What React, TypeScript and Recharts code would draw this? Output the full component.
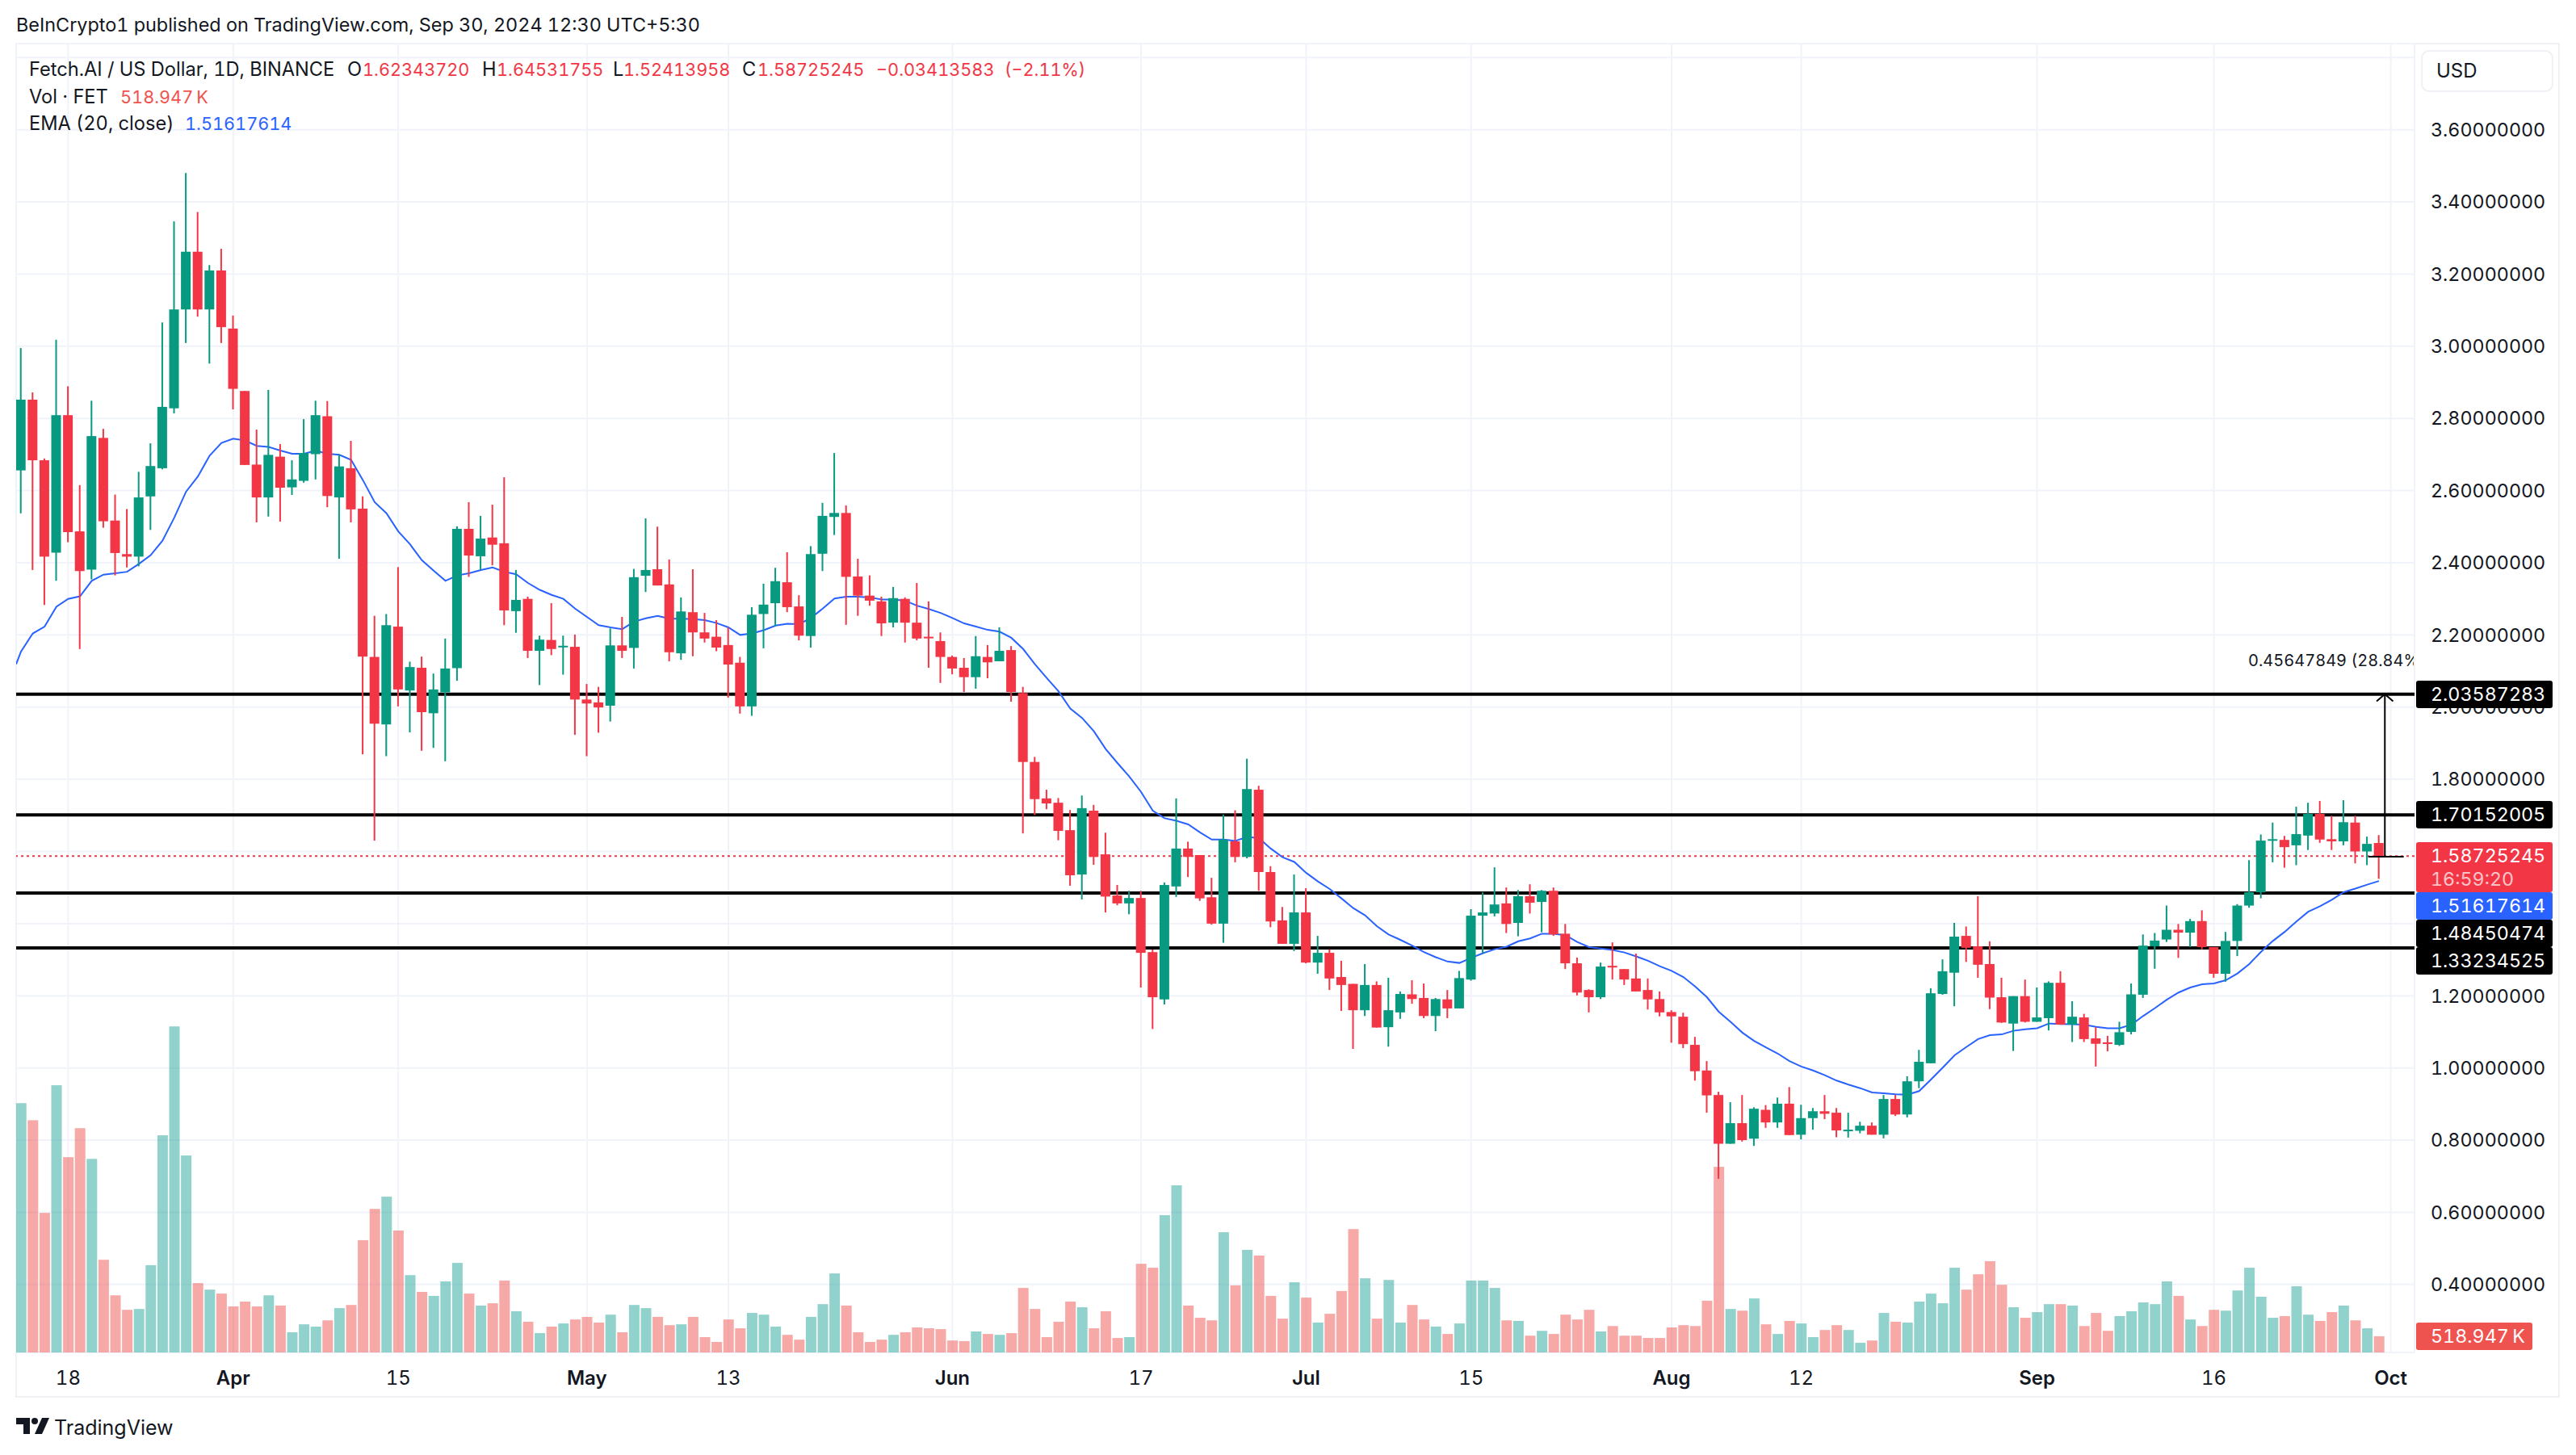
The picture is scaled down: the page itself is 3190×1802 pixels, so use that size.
import { Bar, CartesianGrid, ComposedChart, Line, ReferenceLine, XAxis, YAxis } from 'recharts';

// FET/USD daily candles, 14 Mar - 30 Sep 2024
const opens = [
  2.656, 2.852, 2.684, 2.428, 2.809, 2.487, 2.381, 2.746, 2.517, 2.424, 2.417, 2.584, 2.662, 2.828, 3.102, 3.262, 3.102, 3.21, 3.049, 2.876,
  2.672, 2.581, 2.694, 2.609, 2.627, 2.701, 2.806, 2.581, 2.662, 2.55, 2.139, 1.952, 2.223, 2.046, 2.109, 1.983, 2.041, 2.108, 2.494, 2.418,
  2.47, 2.454, 2.266, 2.3, 2.156, 2.186, 2.166, 2.167, 2.021, 2.013, 2.004, 2.171, 2.164, 2.364, 2.382, 2.34, 2.149, 2.263, 2.207, 2.195,
  2.172, 2.123, 2.002, 2.258, 2.288, 2.346, 2.279, 2.197, 2.425, 2.527, 2.538, 2.362, 2.309, 2.293, 2.234, 2.3, 2.234, 2.195, 2.183, 2.139,
  2.109, 2.083, 2.139, 2.127, 2.158, 2.039, 1.848, 1.747, 1.735, 1.659, 1.536, 1.713, 1.592, 1.478, 1.456, 1.471, 1.321, 1.19, 1.503, 1.608,
  1.59, 1.473, 1.4, 1.628, 1.585, 1.771, 1.543, 1.409, 1.344, 1.431, 1.292, 1.319, 1.252, 1.233, 1.16, 1.23, 1.113, 1.154, 1.204, 1.194,
  1.144, 1.19, 1.165, 1.245, 1.422, 1.428, 1.456, 1.402, 1.476, 1.46, 1.491, 1.372, 1.29, 1.216, 1.196, 1.283, 1.274, 1.248, 1.216, 1.191,
  1.155, 1.142, 1.064, 0.993, 0.925, 0.79, 0.847, 0.804, 0.884, 0.849, 0.901, 0.815, 0.861, 0.88, 0.876, 0.826, 0.826, 0.84, 0.815, 0.914,
  0.871, 0.963, 1.013, 1.205, 1.264, 1.366, 1.337, 1.288, 1.196, 1.123, 1.199, 1.128, 1.138, 1.236, 1.12, 1.14, 1.082, 1.071, 1.064, 1.1,
  1.203, 1.337, 1.356, 1.383, 1.375, 1.407, 1.335, 1.261, 1.352, 1.45, 1.487, 1.631, 1.632, 1.617, 1.644, 1.704, 1.634, 1.628, 1.68, 1.6,
  1.6234,
];
const highs = [
  2.995, 2.872, 2.689, 3.018, 2.889, 2.615, 2.849, 2.771, 2.589, 2.549, 2.652, 2.731, 3.066, 3.346, 3.48, 3.372, 3.225, 3.27, 3.085, 2.876,
  2.769, 2.879, 2.729, 2.684, 2.798, 2.849, 2.848, 2.701, 2.738, 2.584, 2.253, 2.258, 2.388, 2.126, 2.14, 2.093, 2.19, 2.501, 2.568, 2.53,
  2.561, 2.637, 2.38, 2.306, 2.198, 2.288, 2.198, 2.201, 2.064, 2.056, 2.218, 2.25, 2.383, 2.523, 2.5, 2.409, 2.304, 2.382, 2.261, 2.241,
  2.221, 2.139, 2.277, 2.342, 2.386, 2.429, 2.31, 2.446, 2.566, 2.704, 2.559, 2.411, 2.365, 2.306, 2.333, 2.304, 2.344, 2.293, 2.207, 2.143,
  2.136, 2.197, 2.172, 2.221, 2.169, 2.056, 1.862, 1.771, 1.748, 1.715, 1.755, 1.729, 1.652, 1.507, 1.491, 1.491, 1.328, 1.514, 1.747, 1.627,
  1.59, 1.527, 1.702, 1.714, 1.857, 1.782, 1.559, 1.446, 1.536, 1.498, 1.366, 1.329, 1.297, 1.233, 1.288, 1.24, 1.25, 1.212, 1.243, 1.234,
  1.194, 1.216, 1.269, 1.44, 1.487, 1.556, 1.5, 1.493, 1.509, 1.493, 1.5, 1.399, 1.306, 1.218, 1.292, 1.348, 1.274, 1.317, 1.248, 1.212,
  1.16, 1.153, 1.086, 1.019, 0.934, 0.905, 0.925, 0.891, 0.897, 0.918, 0.947, 0.898, 0.889, 0.925, 0.889, 0.876, 0.851, 0.849, 0.925, 0.925,
  0.977, 1.05, 1.221, 1.301, 1.402, 1.392, 1.476, 1.351, 1.25, 1.199, 1.245, 1.223, 1.24, 1.268, 1.185, 1.15, 1.113, 1.089, 1.128, 1.234,
  1.37, 1.374, 1.45, 1.399, 1.413, 1.437, 1.335, 1.377, 1.454, 1.576, 1.647, 1.68, 1.643, 1.724, 1.735, 1.74, 1.699, 1.742, 1.699, 1.641,
  1.6453,
];
const lows = [
  2.537, 2.38, 2.283, 2.35, 2.457, 2.161, 2.354, 2.497, 2.365, 2.387, 2.39, 2.491, 2.659, 2.814, 3.009, 3.082, 2.952, 3.009, 2.825, 2.671,
  2.512, 2.528, 2.514, 2.588, 2.622, 2.631, 2.554, 2.411, 2.512, 1.869, 1.63, 1.864, 2.002, 1.93, 1.879, 1.887, 1.85, 2.073, 2.361, 2.38,
  2.393, 2.227, 2.206, 2.136, 2.061, 2.144, 2.09, 1.923, 1.864, 1.929, 1.96, 2.136, 2.107, 2.319, 2.337, 2.127, 2.131, 2.141, 2.179, 2.155,
  2.026, 1.982, 1.976, 2.163, 2.224, 2.263, 2.185, 2.165, 2.377, 2.477, 2.228, 2.253, 2.281, 2.197, 2.221, 2.179, 2.185, 2.109, 2.067, 2.091,
  2.042, 2.051, 2.08, 2.127, 2.015, 1.65, 1.701, 1.717, 1.631, 1.505, 1.467, 1.563, 1.431, 1.451, 1.426, 1.223, 1.108, 1.176, 1.474, 1.529,
  1.463, 1.397, 1.347, 1.57, 1.581, 1.491, 1.39, 1.344, 1.324, 1.29, 1.261, 1.216, 1.158, 1.053, 1.144, 1.112, 1.059, 1.136, 1.178, 1.138,
  1.102, 1.138, 1.165, 1.242, 1.316, 1.42, 1.374, 1.365, 1.428, 1.376, 1.366, 1.274, 1.201, 1.154, 1.191, 1.245, 1.23, 1.212, 1.162, 1.143,
  1.07, 1.055, 0.965, 0.876, 0.693, 0.79, 0.796, 0.784, 0.834, 0.834, 0.814, 0.802, 0.829, 0.858, 0.808, 0.807, 0.819, 0.815, 0.805, 0.867,
  0.863, 0.944, 1.013, 1.203, 1.171, 1.294, 1.25, 1.163, 1.125, 1.047, 1.126, 1.128, 1.104, 1.12, 1.072, 1.072, 1.004, 1.046, 1.061, 1.093,
  1.194, 1.275, 1.349, 1.305, 1.335, 1.329, 1.25, 1.239, 1.31, 1.444, 1.47, 1.57, 1.555, 1.562, 1.604, 1.624, 1.604, 1.617, 1.567, 1.562,
  1.5241,
];
const closes = [
  2.852, 2.684, 2.417, 2.809, 2.485, 2.377, 2.751, 2.515, 2.427, 2.417, 2.581, 2.668, 2.832, 3.102, 3.262, 3.102, 3.21, 3.053, 2.882, 2.671,
  2.581, 2.699, 2.608, 2.631, 2.704, 2.809, 2.585, 2.667, 2.548, 2.14, 1.954, 2.227, 2.049, 2.111, 1.986, 2.049, 2.107, 2.494, 2.42, 2.467,
  2.45, 2.268, 2.297, 2.156, 2.187, 2.161, 2.17, 2.021, 2.01, 1.999, 2.171, 2.156, 2.36, 2.38, 2.337, 2.152, 2.265, 2.207, 2.19, 2.165,
  2.118, 2.002, 2.256, 2.284, 2.349, 2.277, 2.198, 2.424, 2.53, 2.538, 2.361, 2.309, 2.295, 2.232, 2.302, 2.234, 2.19, 2.191, 2.139, 2.107,
  2.083, 2.141, 2.124, 2.156, 2.042, 1.848, 1.745, 1.733, 1.657, 1.534, 1.72, 1.585, 1.475, 1.456, 1.471, 1.319, 1.196, 1.507, 1.608, 1.585,
  1.47, 1.4, 1.633, 1.585, 1.773, 1.543, 1.406, 1.344, 1.431, 1.292, 1.319, 1.248, 1.23, 1.16, 1.23, 1.112, 1.16, 1.205, 1.191, 1.144,
  1.191, 1.165, 1.249, 1.422, 1.431, 1.453, 1.399, 1.476, 1.458, 1.491, 1.37, 1.29, 1.209, 1.196, 1.281, 1.279, 1.245, 1.212, 1.19, 1.154,
  1.143, 1.066, 0.991, 0.924, 0.79, 0.847, 0.8, 0.887, 0.849, 0.901, 0.814, 0.861, 0.88, 0.873, 0.827, 0.829, 0.84, 0.815, 0.914, 0.871,
  0.963, 1.017, 1.207, 1.268, 1.364, 1.333, 1.286, 1.195, 1.126, 1.199, 1.128, 1.14, 1.236, 1.12, 1.142, 1.08, 1.067, 1.067, 1.099, 1.204,
  1.339, 1.353, 1.383, 1.375, 1.407, 1.335, 1.261, 1.352, 1.45, 1.487, 1.63, 1.634, 1.612, 1.648, 1.704, 1.633, 1.628, 1.681, 1.6, 1.621,
  1.5873,
];
const emaValues = [
  2.154, 2.204, 2.223, 2.278, 2.3, 2.307, 2.35, 2.367, 2.371, 2.375, 2.397, 2.421, 2.461, 2.525, 2.597, 2.639, 2.697, 2.732, 2.744, 2.739,
  2.724, 2.721, 2.711, 2.702, 2.702, 2.711, 2.702, 2.699, 2.685, 2.629, 2.568, 2.537, 2.487, 2.451, 2.407, 2.378, 2.35, 2.365, 2.371, 2.38,
  2.387, 2.375, 2.368, 2.344, 2.325, 2.311, 2.3, 2.273, 2.25, 2.227, 2.221, 2.216, 2.237, 2.246, 2.253, 2.245, 2.245, 2.244, 2.241, 2.233,
  2.221, 2.2, 2.204, 2.213, 2.226, 2.231, 2.23, 2.247, 2.273, 2.301, 2.306, 2.306, 2.304, 2.298, 2.298, 2.295, 2.281, 2.272, 2.261, 2.247,
  2.232, 2.223, 2.214, 2.209, 2.192, 2.161, 2.119, 2.081, 2.044, 1.996, 1.97, 1.933, 1.884, 1.845, 1.808, 1.765, 1.713, 1.692, 1.685, 1.675,
  1.653, 1.633, 1.633, 1.629, 1.64, 1.637, 1.608, 1.584, 1.571, 1.541, 1.517, 1.496, 1.47, 1.443, 1.423, 1.393, 1.37, 1.355, 1.339, 1.321,
  1.307, 1.295, 1.291, 1.305, 1.318, 1.329, 1.336, 1.351, 1.359, 1.372, 1.372, 1.368, 1.349, 1.335, 1.331, 1.327, 1.32, 1.309, 1.297, 1.282,
  1.269, 1.252, 1.226, 1.196, 1.156, 1.128, 1.098, 1.075, 1.057, 1.04, 1.019, 1.004, 0.993, 0.98, 0.965, 0.954, 0.944, 0.932, 0.93, 0.927,
  0.926, 0.936, 0.968, 1.001, 1.035, 1.058, 1.08, 1.091, 1.093, 1.103, 1.107, 1.11, 1.123, 1.122, 1.121, 1.12, 1.114, 1.11, 1.11, 1.12,
  1.144, 1.166, 1.189, 1.209, 1.223, 1.232, 1.234, 1.243, 1.262, 1.288, 1.322, 1.352, 1.377, 1.406, 1.433, 1.448, 1.466, 1.487, 1.497, 1.508,
  1.518,
];
// volume in thousands
const volumes = [
  7981, 7435, 4468, 8554, 6252, 7180, 6197, 2967, 1829, 1365, 1392, 2794, 6952, 10438, 6306, 2220, 2011, 1884, 1474, 1629,
  1474, 1829, 1502, 646, 901, 828, 1028, 1420, 1520, 3595, 4596, 4987, 3904, 2475, 1938, 1811, 2275, 2867, 1884, 1502,
  1574, 2302, 1320, 983, 619, 828, 928, 1056, 1138, 956, 1210, 646, 1520, 1420, 1138, 874, 901, 1138, 491, 337,
  1056, 774, 1265, 1210, 828, 564, 410, 1138, 1547, 2530, 1502, 646, 337, 410, 564, 646, 801, 774, 746, 382,
  364, 673, 592, 564, 619, 2066, 1392, 491, 983, 1629, 1447, 774, 1320, 464, 491, 2839, 2712, 4395, 5351, 1502,
  1110, 1028, 3849, 2148, 3285, 3103, 1811, 1083, 2248, 1756, 956, 1238, 1966, 3949, 2375, 1083, 2321, 956, 1520, 1056,
  828, 592, 928, 2302, 2302, 2066, 1028, 1010, 537, 692, 592, 1210, 1056, 1365, 673, 846, 537, 537, 464, 464,
  801, 874, 846, 1656, 5942, 1392, 1338, 1729, 901, 592, 1010, 928, 491, 719, 874, 719, 309, 382, 1265, 983,
  956, 1629, 1884, 1574, 2712, 2011, 2503, 2921, 2166, 1447, 1110, 1292, 1547, 1547, 1502, 846, 1265, 692, 1165, 1320,
  1602, 1547, 2275, 1811, 1056, 846, 1365, 1338, 1984, 2712, 1784, 1110, 1165, 2120, 1210, 1010, 1292, 1502, 1028, 774,
  519,
];

const xTickValues = [4, 18, 32, 48, 60, 79, 95, 109, 123, 140, 151, 171, 186, 201];
const xTickLabels = ['18', 'Apr', '15', 'May', '13', 'Jun', '17', 'Jul', '15', 'Aug', '12', 'Sep', '16', 'Oct'];
const boldTicks = ['Apr', 'May', 'Jun', 'Jul', 'Aug', 'Sep', 'Oct'];
const priceTicks = [0.4, 0.6, 0.8, 1.0, 1.2, 1.4, 1.6, 1.8, 2.0, 2.2, 2.4, 2.6, 2.8, 3.0, 3.2, 3.4, 3.6, 3.8];
// these ticks sit under the USD box and the price tags in the reference
const hiddenPriceTicks = [1.4, 1.6, 3.8];
const levels = [2.03587283, 1.70152005, 1.48450474, 1.33234525];
const lastClose = 1.58725245;

const UP = '#089981';
const DOWN = '#f23645';
const FONT = 'Inter, sans-serif';
const INK = '#131722';

const rows = opens.map((open, i) => ({
  i,
  open,
  high: highs[i],
  low: lows[i],
  close: closes[i],
  volume: volumes[i],
}));
const emaRows = [{ i: -0.41, ema: 2.119 }, ...emaValues.map((ema, i) => ({ i, ema }))];

function Candle({ x, y, width, height, payload }: any) {
  const { open, close, high, low } = payload;
  const color = close >= open ? UP : DOWN;
  const perUnit = height / (high - low);
  const top = y + (high - Math.max(open, close)) * perUnit;
  const bodyHeight = Math.max(Math.abs(open - close) * perUnit, 2);
  const mid = x + width / 2;
  return (
    <g>
      <rect x={mid - 1} y={y} width={2} height={height} fill={color} />
      <rect x={mid - 6} y={top} width={12} height={bodyHeight} fill={color} />
    </g>
  );
}

function VolumeBar({ x, y, width, height, payload }: any) {
  const color = payload.close >= payload.open ? '#26a69a' : '#ef5350';
  return <rect x={x} y={y} width={width} height={height} fill={color} fillOpacity={0.5} />;
}

function TimeTick({ x, y, payload }: any) {
  const label = xTickLabels[xTickValues.indexOf(payload.value)];
  return (
    <text
      x={x}
      y={y + 31}
      textAnchor="middle"
      dominantBaseline="central"
      fontFamily={FONT}
      fontSize={24}
      fontWeight={boldTicks.includes(label) ? 600 : 400}
      fill={INK}
    >
      {label}
    </text>
  );
}

function Tag({ top, height = 34, width = 169, bg, children }: any) {
  return (
    <div
      style={{
        position: 'absolute',
        left: 2992,
        top,
        width,
        height,
        background: bg,
        color: '#fff',
        borderRadius: 3,
        fontSize: 23.3,
        lineHeight: `${height}px`,
        paddingLeft: 18,
        boxSizing: 'border-box',
      }}
    >
      {children}
    </div>
  );
}

function Abs({ left, top, color = INK, size = 23.6, children }: any) {
  return (
    <div style={{ position: 'absolute', left, top, color, fontSize: size, lineHeight: '32px', whiteSpace: 'pre' }}>
      {children}
    </div>
  );
}

export default function App() {
  return (
    <div
      style={{
        position: 'absolute',
        left: 0,
        top: 0,
        width: 3190,
        height: 1802,
        background: '#fff',
        fontFamily: FONT,
        fontVariantNumeric: 'tabular-nums',
        overflow: 'hidden',
      }}
    >
      <div style={{ position: 'absolute', left: 19, top: 53, width: 3151, height: 1678, border: '2px solid #eff1f5', boxSizing: 'border-box' }} />

      <ComposedChart
        width={3190}
        height={1802}
        data={rows}
        margin={{ top: 54, right: 20, bottom: 71, left: 20 }}
        style={{ position: 'absolute', left: 0, top: 0 }}
      >
        <CartesianGrid xAxisId="price" yAxisId="price" stroke="#f0f3fa" strokeWidth={2} />
        <XAxis
          xAxisId="price"
          dataKey="i"
          type="number"
          domain={[-0.411, 203.014]}
          allowDataOverflow
          ticks={xTickValues}
          interval={0}
          height={56}
          axisLine={false}
          tickLine={false}
          tickSize={0}
          tickMargin={0}
          tick={<TimeTick />}
        />
        <XAxis xAxisId="vol" dataKey="i" type="number" domain={[-0.411, 203.014]} allowDataOverflow hide />
        <YAxis
          yAxisId="price"
          orientation="right"
          width={180}
          domain={[0.2116, 3.8387]}
          allowDataOverflow
          ticks={priceTicks}
          interval={0}
          axisLine={false}
          tickLine={false}
          tickSize={0}
          tickMargin={20}
          tick={{ fontSize: 23.3, fill: INK, fontFamily: FONT }}
          tickFormatter={(v: number) => (hiddenPriceTicks.includes(v) ? '' : v.toFixed(8))}
        />
        <YAxis yAxisId="vol" domain={[0, 41900]} allowDataOverflow hide />

        <Bar
          xAxisId="vol"
          yAxisId="vol"
          dataKey="volume"
          barSize={13}
          shape={<VolumeBar />}
          isAnimationActive={false}
          zIndex={100}
        />

        {levels.map((level) => (
          <ReferenceLine key={level} xAxisId="price" yAxisId="price" y={level} stroke="#000" strokeWidth={4} zIndex={150} />
        ))}
        <ReferenceLine
          xAxisId="price"
          yAxisId="price"
          y={lastClose}
          stroke={DOWN}
          strokeWidth={2}
          strokeDasharray="3 4"
          zIndex={150}
        />

        <Line
          xAxisId="price"
          yAxisId="price"
          data={emaRows}
          dataKey="ema"
          type="linear"
          stroke="#2962ff"
          strokeWidth={2}
          dot={false}
          activeDot={false}
          isAnimationActive={false}
          zIndex={200}
        />

        <Bar
          xAxisId="price"
          yAxisId="price"
          dataKey={(d: any) => [d.low, d.high]}
          barSize={12}
          shape={<Candle />}
          isAnimationActive={false}
          zIndex={300}
        />

        {/* measure tool on the last candle */}
        <ReferenceLine
          xAxisId="price"
          yAxisId="price"
          segment={[{ x: 200.5, y: 1.5854 }, { x: 200.5, y: 2.03587 }]}
          stroke="#000"
          strokeWidth={2}
          zIndex={400}
        />
        <ReferenceLine
          xAxisId="price"
          yAxisId="price"
          segment={[{ x: 199.1, y: 1.5854 }, { x: 202.1, y: 1.5854 }]}
          stroke="#000"
          strokeWidth={2}
          zIndex={400}
        />
        <ReferenceLine
          xAxisId="price"
          yAxisId="price"
          segment={[{ x: 199.8, y: 2.016 }, { x: 200.5, y: 2.03587 }]}
          stroke="#000"
          strokeWidth={2}
          zIndex={400}
        />
        <ReferenceLine
          xAxisId="price"
          yAxisId="price"
          segment={[{ x: 201.2, y: 2.016 }, { x: 200.5, y: 2.03587 }]}
          stroke="#000"
          strokeWidth={2}
          zIndex={400}
        />
      </ComposedChart>

      <Abs left={20} top={15} size={23.4}>BeInCrypto1 published on TradingView.com, Sep 30, 2024 12:30 UTC+5:30</Abs>

      <Abs left={36} top={70}>Fetch.AI / US Dollar, 1D, BINANCE</Abs>
      <Abs left={430} top={70}>O</Abs>
      <Abs left={449} top={70} size={21.7} color={DOWN}>1.62343720</Abs>
      <Abs left={597} top={70}>H</Abs>
      <Abs left={615} top={70} size={21.7} color={DOWN}>1.64531755</Abs>
      <Abs left={759} top={70}>L</Abs>
      <Abs left={772} top={70} size={21.7} color={DOWN}>1.52413958</Abs>
      <Abs left={919} top={70}>C</Abs>
      <Abs left={938} top={70} size={21.7} color={DOWN}>1.58725245</Abs>
      <Abs left={1085} top={70} size={21.7} color={DOWN}>−0.03413583</Abs>
      <Abs left={1244} top={70} size={21.7} color={DOWN}>(−2.11%)</Abs>

      <Abs left={36} top={104}>Vol · FET</Abs>
      <Abs left={149} top={104} size={21.7} color="#ef5350">{'518.947\u2009K'}</Abs>
      <Abs left={36} top={137}>EMA (20, close)</Abs>
      <Abs left={229} top={137} size={21.7} color="#2962ff">1.51617614</Abs>

      <div
        style={{
          position: 'absolute',
          left: 2998,
          top: 62,
          width: 164,
          height: 52,
          background: '#fff',
          border: '2px solid #eff1f5',
          borderRadius: 10,
          boxSizing: 'border-box',
          paddingLeft: 17,
          fontSize: 24,
          lineHeight: '48px',
          color: INK,
        }}
      >
        USD
      </div>

      <div style={{ position: 'absolute', left: 2784, top: 802, width: 205, overflow: 'hidden', fontSize: 20, lineHeight: '32px', color: INK, whiteSpace: 'nowrap' }}>
        0.45647849 (28.84%)
      </div>

      <Tag top={843} bg="#000">2.03587283</Tag>
      <Tag top={992} bg="#000">1.70152005</Tag>
      <Tag top={1043} height={62} bg={DOWN}>
        <div style={{ lineHeight: '32px', marginTop: 1 }}>1.58725245</div>
        <div style={{ lineHeight: '26px', opacity: 0.7 }}>16:59:20</div>
      </Tag>
      <Tag top={1105} bg="#2962ff">1.51617614</Tag>
      <Tag top={1139} bg="#000">1.48450474</Tag>
      <Tag top={1173} bg="#000">1.33234525</Tag>
      <Tag top={1638} width={144} bg="#ef5350">{'518.947\u2009K'}</Tag>

      <svg style={{ position: 'absolute', left: 20, top: 1756 }} width={42} height={22} viewBox="0 0 42 22">
        <path d="M0 0H17V20H9V8H0Z" fill={INK} />
        <circle cx={23} cy={4} r={4} fill={INK} />
        <path d="M32 0H41L32 20H23Z" fill={INK} />
      </svg>
      <Abs left={67} top={1752} size={25}>TradingView</Abs>
    </div>
  );
}
